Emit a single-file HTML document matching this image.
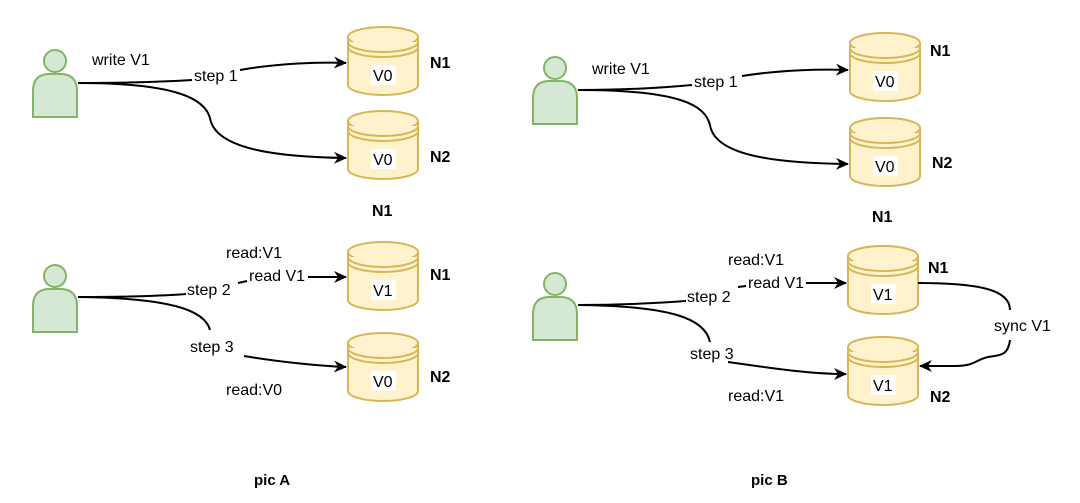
<!DOCTYPE html>
<html><head><meta charset="utf-8"><style>
html,body{margin:0;padding:0;background:#fff;width:1080px;height:503px;overflow:hidden}
text{font-family:"Liberation Sans",sans-serif;font-size:16px;fill:#000}
.b{font-weight:bold;font-size:16px}
.cyl path,.cyl ellipse{fill:#fff2cc;stroke:#d6b656;stroke-width:2}
.ln{fill:none;stroke:#000;stroke-width:2}
</style></head><body>
<svg width="1080" height="503" viewBox="0 0 1080 503" xmlns="http://www.w3.org/2000/svg">
<defs>
<marker id="ar" markerWidth="14" markerHeight="14" refX="12" refY="6" orient="auto" markerUnits="userSpaceOnUse"><path d="M0,0 L13,6 L0,12 L4,6 Z" fill="#000"/></marker>
<g id="person"><circle cx="23" cy="14" r="11" fill="#d5e8d4" stroke="#82b366" stroke-width="2"/><path d="M1,70 V44 Q1,28 16,27 H30 Q45,28 45,44 V70 Z" fill="#d5e8d4" stroke="#82b366" stroke-width="2"/></g>
<g id="cyl" class="cyl"><path d="M0,10 V58 A35,10 0 0 0 70,58 V10"/><ellipse cx="35" cy="10" rx="35" ry="10"/><path d="M0,15 A35,10 0 0 0 70,15 M0,20 A35,10 0 0 0 70,20" fill="none"/></g>
</defs>
<!-- pic A top -->
<use href="#person" x="32" y="47"/>
<use href="#cyl" x="348" y="27"/><use href="#cyl" x="348" y="111"/>
<rect x="371" y="65" width="25" height="20" fill="#fff"/><text x="373" y="81">V0</text>
<rect x="371" y="149" width="25" height="20" fill="#fff"/><text x="373" y="165">V0</text>
<text x="430" y="68" class="b">N1</text><text x="430" y="162" class="b">N2</text><text x="372" y="216" class="b">N1</text>
<text x="92" y="65">write V1</text>
<path class="ln" d="M78,83 C120,83 160,82 192,80"/><text x="194" y="81">step 1</text>
<path class="ln" d="M240,70 C280,63 320,62 346,63" marker-end="url(#ar)"/>
<path class="ln" d="M78,83 C180,83 205,100 210,118 C215,150 280,157 346,158" marker-end="url(#ar)"/>
<!-- pic A bottom -->
<use href="#person" x="32" y="262"/>
<use href="#cyl" x="348" y="242"/><use href="#cyl" x="348" y="333"/>
<rect x="371" y="280" width="25" height="20" fill="#fff"/><text x="373" y="296">V1</text>
<rect x="371" y="371" width="25" height="20" fill="#fff"/><text x="373" y="387">V0</text>
<text x="430" y="280" class="b">N1</text><text x="430" y="382" class="b">N2</text>
<text x="226" y="258">read:V1</text>
<path class="ln" d="M78,297 C120,297 160,296 186,294"/><text x="187" y="295">step 2</text>
<path class="ln" d="M238,283 L247,281"/><text x="249" y="281">read V1</text>
<path class="ln" d="M308,277 L346,277" marker-end="url(#ar)"/>
<path class="ln" d="M78,297 C170,298 205,310 210,330"/><text x="190" y="352">step 3</text>
<path class="ln" d="M244,356 C280,362 320,366 346,367" marker-end="url(#ar)"/>
<text x="226" y="395">read:V0</text>
<text x="254" y="485" class="b" style="font-size:15px">pic A</text>
<!-- pic B top -->
<use href="#person" x="532" y="54"/>
<use href="#cyl" x="850" y="33"/><use href="#cyl" x="850" y="118"/>
<rect x="873" y="71" width="25" height="20" fill="#fff"/><text x="875" y="87">V0</text>
<rect x="873" y="156" width="25" height="20" fill="#fff"/><text x="875" y="172">V0</text>
<text x="930" y="56" class="b">N1</text><text x="932" y="168" class="b">N2</text><text x="872" y="222" class="b">N1</text>
<text x="592" y="74">write V1</text>
<path class="ln" d="M578,90 C620,90 660,88 692,85"/><text x="694" y="87">step 1</text>
<path class="ln" d="M742,76 C780,70 820,69 848,70" marker-end="url(#ar)"/>
<path class="ln" d="M578,90 C680,90 705,105 710,125 C715,157 780,163 848,164" marker-end="url(#ar)"/>
<!-- pic B bottom -->
<use href="#person" x="532" y="270"/>
<use href="#cyl" x="848" y="246"/><use href="#cyl" x="848" y="337"/>
<rect x="871" y="284" width="25" height="20" fill="#fff"/><text x="873" y="300">V1</text>
<rect x="871" y="375" width="25" height="20" fill="#fff"/><text x="873" y="391">V1</text>
<text x="928" y="273" class="b">N1</text><text x="930" y="402" class="b">N2</text>
<text x="728" y="265">read:V1</text>
<path class="ln" d="M578,305 C620,305 660,303 686,301"/><text x="687" y="302">step 2</text>
<path class="ln" d="M738,287 L746,286"/><text x="748" y="288">read V1</text>
<path class="ln" d="M806,283 L846,283" marker-end="url(#ar)"/>
<path class="ln" d="M578,305 C670,306 705,318 710,342"/><text x="690" y="359">step 3</text>
<path class="ln" d="M728,362 C770,368 810,374 846,374" marker-end="url(#ar)"/>
<text x="728" y="401">read:V1</text>
<path class="ln" d="M918,283 C980,283 1010,290 1010,310"/><text x="994" y="331">sync V1</text>
<path class="ln" d="M1010,340 C1008,356 1000,355 988,357 C975,360 975,366 955,366 L920,366" marker-end="url(#ar)"/>
<text x="751" y="485" class="b" style="font-size:15px">pic B</text>
</svg>
</body></html>
